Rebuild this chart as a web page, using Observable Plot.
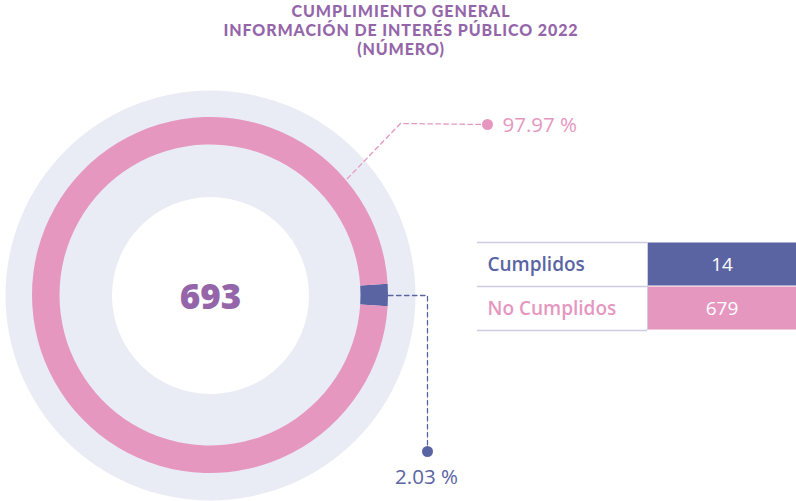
<!DOCTYPE html>
<html><head><meta charset="utf-8">
<script src="https://cdn.jsdelivr.net/npm/d3@7"></script>
<script src="https://cdn.jsdelivr.net/npm/@observablehq/plot@0.6"></script>
<style>
html,body{margin:0;padding:0;background:#fff;}
#wrap{position:relative;width:796px;height:501px;overflow:hidden;font-family:"Open Sans",sans-serif;}
#chart{position:absolute;left:0;top:0;}
#title{position:absolute;left:3px;top:0;width:796px;color:#9466A9;font-family:Lato,sans-serif;font-weight:900;font-size:16px;letter-spacing:0.9px;}
#title div{position:absolute;left:0;width:796px;text-align:center;line-height:19px;height:19px;white-space:nowrap;}
#table{position:absolute;left:477px;top:241px;}
</style></head><body>
<div id="wrap"><div id="chart"></div><div id="title"></div><div id="table"></div></div>
<script>
// ---- data ----
const titleLines = ["CUMPLIMIENTO GENERAL", "INFORMACIÓN DE INTERÉS PÚBLICO 2022", "(NÚMERO)"];
const categories = ["Cumplidos", "No Cumplidos"];
const values = [14, 679];
const percentLabels = ["2.03 %", "97.97 %"];
const colors = ["#5A64A3", "#E597C0"];

// ---- layout / style ----
const FONT = "'Open Sans', sans-serif";
const PURPLE = "#9466A9";
const GRAY = "#E9ECF4";
const LINE = "#CFCBE6";
const CX = 210, CY = 295;
const R_BG = 205, R_OUT = 178, R_IN = 150.5, R_HOLE = 98.5;

const titleEl = document.getElementById("title");
titleLines.forEach((t, i) => {
  const d = document.createElement("div");
  d.textContent = t;
  d.style.top = (1 + i * 19) + "px";
  titleEl.append(d);
});

const total = d3.sum(values);
const half = Math.PI * values[0] / total;
const pie = d3.pie().sort(null)
  .startAngle(Math.PI / 2 - half)
  .endAngle(Math.PI / 2 - half + 2 * Math.PI)(values);
const slices = categories.map((c, i) => ({category: c, value: values[i], color: colors[i], arc: pie[i]}));
const arcGen = d3.arc().innerRadius(R_IN).outerRadius(R_OUT);

// leader lines (annotation layout)
const a0 = (pie[0].startAngle + pie[0].endAngle) / 2 - Math.PI / 2; // blue slice mid angle (screen)
const blueStart = [CX + R_OUT * Math.cos(a0), CY + R_OUT * Math.sin(a0)];
const blueLeader = [
  {x: blueStart[0], y: blueStart[1]},
  {x: 427, y: blueStart[1]},
  {x: 427, y: 451}
];
const pinkAngle = -40.5 * Math.PI / 180;
const pinkLeader = [
  {x: CX + 180 * Math.cos(pinkAngle), y: CY + 180 * Math.sin(pinkAngle)},
  {x: 400, y: 123},
  {x: 487, y: 124}
];
const leaders = [blueLeader, pinkLeader];
const labelPos = [
  {x: 426, y: 477},
  {x: 502, y: 125}
];
const labels = percentLabels.map((t, i) => ({text: t, color: colors[i], ...labelPos[i]}));
const ends = leaders.map((l, i) => ({...l[l.length - 1], color: colors[i]}));
const segs = leaders.flatMap((l, i) => l.map(p => ({...p, k: i, color: colors[i]})));

const chart = Plot.plot({
  width: 796, height: 501, margin: 0,
  style: {fontFamily: FONT, background: "transparent"},
  x: {type: "linear", domain: [0, 796], range: [0, 796], axis: null},
  y: {type: "linear", domain: [0, 501], range: [0, 501], axis: null},
  color: {type: "identity"},
  marks: [
    Plot.dot([0], {x: () => CX, y: () => CY, r: R_BG, fill: GRAY}),
    Plot.dot([0], {x: () => CX, y: () => CY, r: R_HOLE, fill: "#ffffff"}),
    Plot.dot(slices, {
      x: () => CX, y: () => CY, r: 1,
      render(index, scales, vals) {
        const g = d3.create("svg:g");
        g.selectAll("path").data(index).join("path")
          .attr("transform", i => `translate(${vals.x[i]},${vals.y[i]})`)
          .attr("d", i => arcGen(slices[i].arc))
          .attr("fill", i => slices[i].color);
        return g.node();
      }
    }),
    Plot.line(segs, {x: "x", y: "y", z: "k", stroke: "color", strokeWidth: 1.3, strokeDasharray: "4.5,3.5"}),
    Plot.dot(ends, {x: "x", y: "y", r: 5.5, fill: "color"}),
    Plot.text([labels[0]], {x: "x", y: "y", text: "text", fill: "color", textAnchor: "middle", fontSize: 20.5, fontWeight: 500}),
    Plot.text([labels[1]], {x: "x", y: "y", text: "text", fill: "color", textAnchor: "start", fontSize: 20.5, fontWeight: 500}),
    Plot.text([total], {x: () => CX, y: () => CY + 2, text: d => String(d), fill: PURPLE, fontSize: 35, fontWeight: 800})
  ]
});
document.getElementById("chart").append(chart);

const rows = categories.map((c, i) => ({category: c, value: values[i], color: colors[i], i}));
const table = Plot.plot({
  width: 319, height: 91, margin: 0,
  style: {fontFamily: FONT, background: "transparent"},
  x: {type: "linear", domain: [0, 319], range: [0, 319], axis: null},
  y: {type: "linear", domain: [0, rows.length], range: [1, 89], axis: null},
  color: {type: "identity"},
  marks: [
    Plot.rect(rows, {x1: () => 170, x2: () => 319, y1: "i", y2: d => d.i + 1, fill: "color", insetTop: 0.5, insetBottom: 0.5}),
    Plot.ruleY(d3.range(rows.length + 1), {x1: () => 0, x2: () => 170, stroke: LINE, strokeWidth: 1.5}),
    Plot.ruleX([0], {x: () => 170, y1: () => 0, y2: () => rows.length, stroke: LINE, strokeWidth: 1}),
    Plot.text(rows, {x: () => 10, y: d => d.i + 0.5, text: "category", fill: "color", textAnchor: "start", fontSize: 19, fontWeight: 600}),
    Plot.text(rows, {x: () => 244.5, y: d => d.i + 0.5, text: d => String(d.value), fill: "#ffffff", fontSize: 19, fontWeight: 400})
  ]
});
document.getElementById("table").append(table);
</script>
</body></html>
